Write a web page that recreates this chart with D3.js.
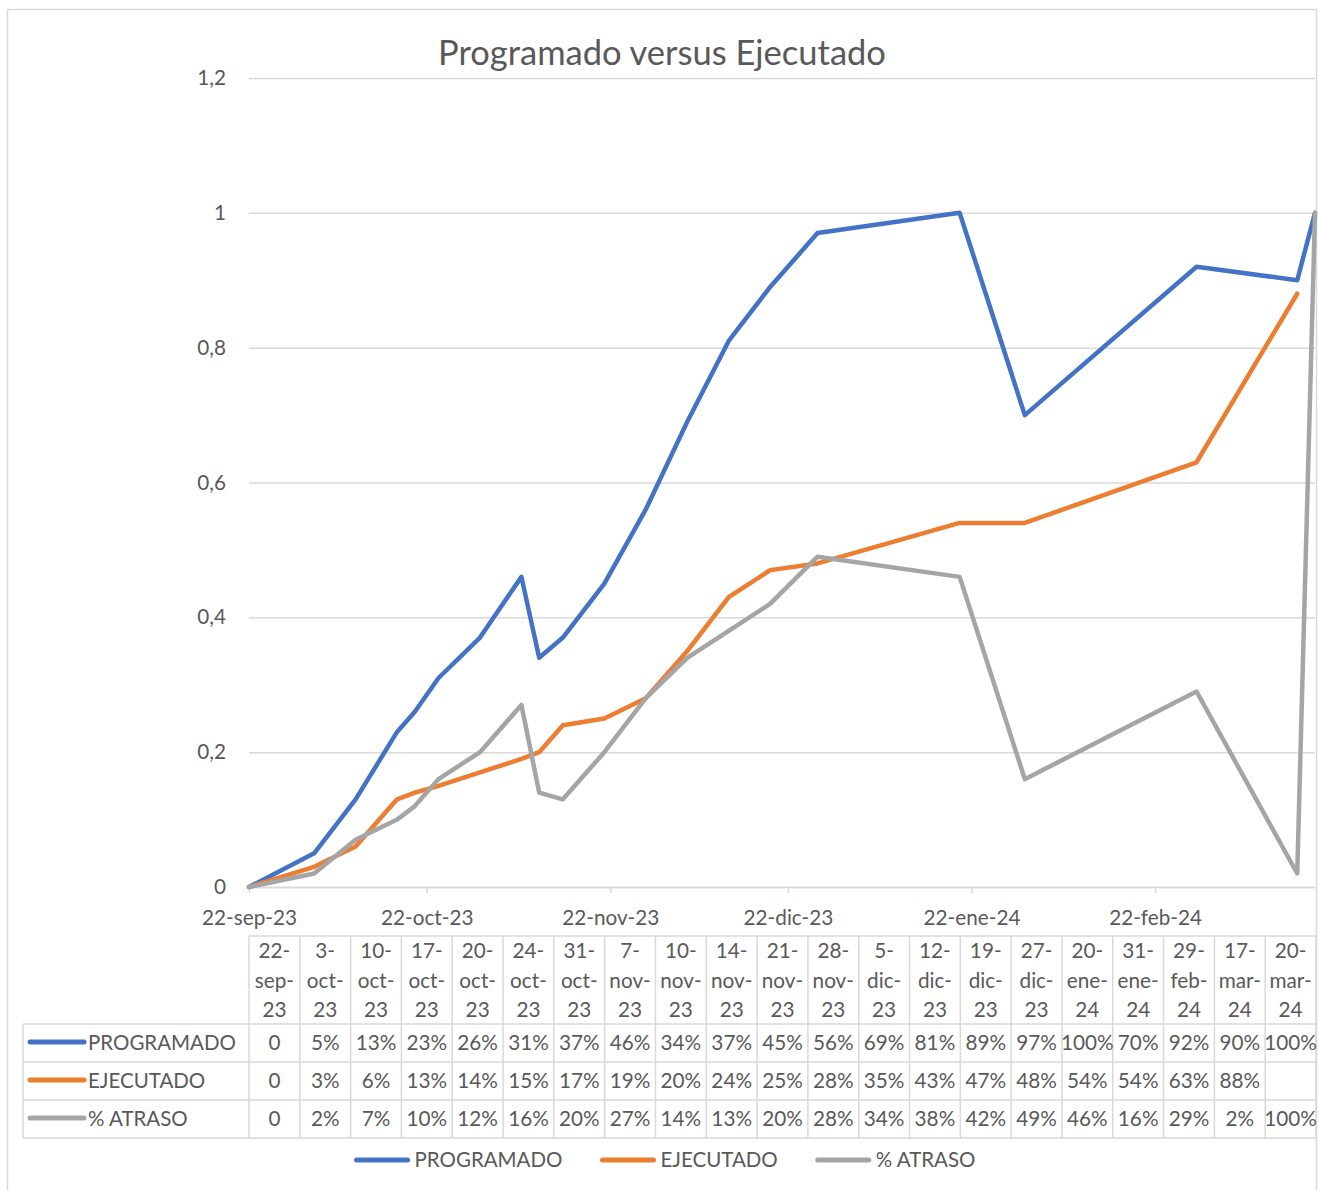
<!DOCTYPE html>
<html><head><meta charset="utf-8">
<script src="https://cdn.jsdelivr.net/npm/d3@7"></script>
<style>body{margin:0;background:#fff}</style>
</head><body><svg id="c" width="1319" height="1190"></svg>
<script>
// ---------- DATA ----------
const dates = ["22-sep-23","3-oct-23","10-oct-23","17-oct-23","20-oct-23","24-oct-23","31-oct-23","7-nov-23","10-nov-23","14-nov-23","21-nov-23","28-nov-23","5-dic-23","12-dic-23","19-dic-23","27-dic-23","20-ene-24","31-ene-24","29-feb-24","17-mar-24","20-mar-24"];
const programado = [0,0.05,0.13,0.23,0.26,0.31,0.37,0.46,0.34,0.37,0.45,0.56,0.69,0.81,0.89,0.97,1.00,0.70,0.92,0.90,1.00];
const ejecutado  = [0,0.03,0.06,0.13,0.14,0.15,0.17,0.19,0.20,0.24,0.25,0.28,0.35,0.43,0.47,0.48,0.54,0.54,0.63,0.88,null];
const atraso     = [0,0.02,0.07,0.10,0.12,0.16,0.20,0.27,0.14,0.13,0.20,0.28,0.34,0.38,0.42,0.49,0.46,0.16,0.29,0.02,1.00];
const seriesNames = ["PROGRAMADO","EJECUTADO","% ATRASO"];
const seriesColors = ["#4472C4","#ED7D31","#A5A5A5"];
const yTicks = [0,0.2,0.4,0.6,0.8,1,1.2];
const xTickLabels = ["22-sep-23","22-oct-23","22-nov-23","22-dic-23","22-ene-24","22-feb-24"];
const titleText = "Programado versus Ejecutado";

// ---------- SETUP ----------
const FONT = "Lato, 'Noto Sans', sans-serif";
const TXT = "#595959", GRID = "#d9d9d9";
const svg = d3.select("#c");
svg.attr("font-family", FONT);

function fitSize(text, targetW){
  const t = svg.append("text").attr("font-size",100).text(text);
  const w = t.node().getComputedTextLength(); t.remove();
  return 100*targetW/w;
}
const fsAxis = fitSize("22-sep-23", 95);
const fsName = fitSize("PROGRAMADO", 148);
const fsTitle = fitSize(titleText, 448);

const months = {ene:0,feb:1,mar:2,abr:3,may:4,jun:5,jul:6,ago:7,sep:8,oct:9,nov:10,dic:11};
function parseD(s){const p=s.split("-"); return new Date(Date.UTC(2000+ +p[2], months[p[1]], +p[0]));}
const es = d3.formatLocale({decimal:",",thousands:".",grouping:[3],currency:["","€"]});
const fmtY = es.format("~g");

const L = 249, R = 1315, T = 78, B = 887;
const x = d3.scaleUtc().domain([parseD(dates[0]), parseD(dates[dates.length-1])]).range([L,R]);
const y = d3.scaleLinear().domain([0,1.2]).range([B,T]);

// chart border
svg.append("rect").attr("x",7.5).attr("y",9.5).attr("width",1309).attr("height",1300)
  .attr("fill","none").attr("stroke",GRID).attr("stroke-width",1.5);

// title
svg.append("text").attr("x",662).attr("y",65).attr("text-anchor","middle")
  .attr("font-size",fsTitle).attr("fill",TXT).text(titleText);

// y axis + grid
const gy = svg.append("g").attr("transform",`translate(${L},0)`)
  .call(d3.axisLeft(y).tickValues(yTicks).tickSize(-(R-L)).tickPadding(23).tickFormat(fmtY));
gy.select(".domain").remove();
gy.selectAll(".tick line").attr("stroke",GRID).attr("stroke-width",1.5);
gy.selectAll(".tick text").attr("fill",TXT).attr("font-size",fsAxis).attr("font-family",FONT);

// x axis
const gx = svg.append("g").attr("transform",`translate(0,${B})`)
  .call(d3.axisBottom(x).tickValues(xTickLabels.map(parseD)).tickSize(6).tickSizeOuter(0).tickPadding(17)
    .tickFormat((d,i)=>xTickLabels[i]));
gx.select(".domain").attr("stroke",GRID).attr("stroke-width",1.5);
gx.selectAll(".tick line").attr("stroke",GRID).attr("stroke-width",1.5);
gx.selectAll(".tick text").attr("fill",TXT).attr("font-size",fsAxis).attr("font-family",FONT);

// lines
const seriesData = [programado, ejecutado, atraso];
const line = d3.line().defined(d=>d.v!==null).x(d=>x(d.d)).y(d=>y(d.v));
seriesData.forEach((vals,k)=>{
  const pts = vals.map((v,i)=>({d:parseD(dates[i]), v}));
  svg.append("path").datum(pts).attr("d",line).attr("fill","none")
    .attr("stroke",seriesColors[k]).attr("stroke-width",4.5)
    .attr("stroke-linejoin","round").attr("stroke-linecap","round");
});

// data table
const TL = 249, TR = 1316, colW = (TR-TL)/dates.length;
const headTop = 936, rowTop = 1024, rowH = 38;
const tbl = svg.append("g");
const nRows = seriesNames.length;
const tBottom = rowTop + nRows*rowH;
// horizontal lines
tbl.append("line").attr("x1",TL).attr("x2",TR).attr("y1",headTop).attr("y2",headTop);
for(let r=0;r<=nRows;r++){
  tbl.append("line").attr("x1",23).attr("x2",TR).attr("y1",rowTop+r*rowH).attr("y2",rowTop+r*rowH);
}
// vertical lines
tbl.append("line").attr("x1",23).attr("x2",23).attr("y1",rowTop).attr("y2",tBottom);
for(let c=0;c<=dates.length;c++){
  tbl.append("line").attr("x1",TL+c*colW).attr("x2",TL+c*colW).attr("y1",headTop).attr("y2",tBottom);
}
tbl.selectAll("line").attr("stroke",GRID).attr("stroke-width",1.5);

// header cells
dates.forEach((s,i)=>{
  const p = s.split("-");
  const lines = [p[0]+"-", p[1]+"-", p[2]];
  const cx = TL+(i+0.5)*colW;
  lines.forEach((ln,j)=>{
    tbl.append("text").attr("x",cx).attr("y",958+j*29.5).attr("text-anchor","middle")
      .attr("font-size",fsAxis).attr("fill",TXT).text(ln);
  });
});
// value rows
const fmtPct = v => v===null ? "" : (v===0 ? "0" : Math.round(v*100)+"%");
seriesData.forEach((vals,k)=>{
  const cy = rowTop + (k+0.5)*rowH;
  tbl.append("line").attr("x1",30).attr("x2",84).attr("y1",cy-1).attr("y2",cy-1)
    .attr("stroke",seriesColors[k]).attr("stroke-width",5).attr("stroke-linecap","round");
  tbl.append("text").attr("x",88).attr("y",cy).attr("dy","0.35em").attr("font-size",fsName)
    .attr("fill",TXT).text(seriesNames[k]);
  vals.forEach((v,i)=>{
    tbl.append("text").attr("x",TL+(i+0.5)*colW).attr("y",cy).attr("dy","0.35em")
      .attr("text-anchor","middle").attr("font-size",fsAxis).attr("fill",TXT).text(fmtPct(v));
  });
});

// bottom legend
const leg = svg.append("g");
const keyW = 55, keyGap = 5, itemGap = 38;
const widths = seriesNames.map(n=>{
  const t = svg.append("text").attr("font-size",fsName).text(n);
  const w = t.node().getComputedTextLength(); t.remove(); return w;
});
const total = d3.sum(widths) + seriesNames.length*(keyW+keyGap) + (seriesNames.length-1)*itemGap;
let lx = 665 - total/2;
const ly = 1160;
seriesNames.forEach((n,k)=>{
  leg.append("line").attr("x1",lx+2).attr("x2",lx+keyW-2).attr("y1",ly).attr("y2",ly)
    .attr("stroke",seriesColors[k]).attr("stroke-width",5).attr("stroke-linecap","round");
  leg.append("text").attr("x",lx+keyW+keyGap).attr("y",ly).attr("dy","0.35em")
    .attr("font-size",fsName).attr("fill",TXT).text(n);
  lx += keyW+keyGap+widths[k]+itemGap;
});
</script></body></html>
